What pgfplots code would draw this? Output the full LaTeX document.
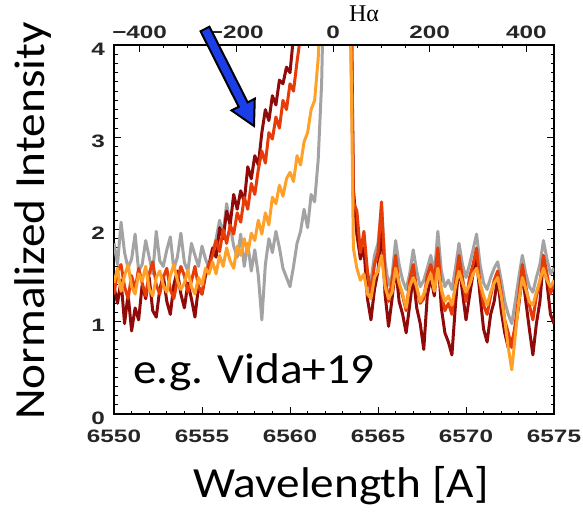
\documentclass[border=0pt]{standalone}
\usepackage{fontspec}
\usepackage{pgfplots}
\pgfplotsset{compat=1.18}
\usepackage{pgfplotstable}
\usetikzlibrary{calc}
\newfontfamily\calfont[FakeStretch=1.1]{Carlito}
\newfontfamily\tickfont[FakeStretch=1.35]{Liberation Sans}
\newfontfamily\serffont{Liberation Serif}
\definecolor{cgray}{RGB}{163,163,163}
\definecolor{corange}{RGB}{255,160,40}
\definecolor{cred}{RGB}{232,60,8}
\definecolor{cdark}{RGB}{145,10,10}
\definecolor{cblue}{RGB}{28,62,232}

\pgfplotstableread{
x G O R D
6550.0 1.85 1.42 1.30 1.38
6550.2 1.62 1.58 1.55 1.20
6550.4 2.08 1.33 1.62 1.45
6550.6 1.75 1.50 1.38 0.98
6550.8 1.58 1.62 1.25 1.30
6551.0 1.68 1.38 1.50 0.90
6551.2 1.95 1.30 1.35 1.15
6551.4 1.55 1.52 1.58 1.02
6551.6 1.62 1.44 1.42 1.40
6551.8 1.88 1.60 1.28 1.25
6552.0 1.70 1.36 1.52 1.48
6552.2 1.52 1.28 1.65 1.12
6552.4 1.98 1.48 1.40 1.05
6552.6 1.66 1.55 1.30 1.35
6552.8 1.60 1.40 1.48 1.50
6553.0 1.78 1.32 1.58 1.22
6553.2 1.92 1.50 1.35 1.08
6553.4 1.57 1.62 1.25 1.40
6553.6 1.70 1.45 1.45 1.55
6553.8 1.96 1.35 1.60 1.30
6554.0 1.64 1.42 1.50 1.15
6554.2 1.55 1.56 1.32 1.42
6554.4 1.85 1.38 1.44 1.25
6554.6 1.72 1.30 1.60 1.05
6554.8 1.60 1.48 1.38 1.38
6555.0 1.82 1.40 1.30 1.30
6555.2 1.68 1.58 1.55 1.50
6555.4 1.58 1.52 1.62 1.62
6555.6 1.75 1.65 1.72 1.80
6555.8 1.90 1.52 1.88 1.70
6556.0 2.10 1.72 1.76 2.02
6556.2 1.95 1.60 2.00 1.90
6556.4 2.28 1.80 1.85 2.20
6556.6 2.05 1.66 2.05 2.05
6556.8 1.82 1.58 1.95 2.38
6557.0 1.70 1.82 2.18 2.22
6557.2 1.95 1.72 2.08 2.42
6557.4 1.60 1.90 2.35 2.30
6557.6 1.85 1.74 2.22 2.68
6557.8 1.55 1.96 2.50 2.55
6558.0 1.78 1.88 2.38 2.80
6558.2 1.50 2.10 2.65 2.70
6558.4 1.02 1.95 2.85 3.05
6558.6 1.62 2.18 2.72 3.30
6558.8 1.90 2.05 3.05 3.18
6559.0 1.75 2.35 2.98 3.45
6559.2 1.98 2.28 3.22 3.35
6559.4 1.80 2.48 3.10 3.62
6559.6 1.58 2.36 3.40 3.58
6559.8 1.48 2.55 3.30 3.76
6560.0 1.38 2.62 3.58 3.70
6560.2 1.60 2.52 3.50 4.10
6560.4 1.85 2.80 3.82 4.60
6560.6 1.98 2.70 4.10 5.20
6560.8 2.22 2.95 4.50 6.00
6561.0 2.02 3.05 5.00 7.00
6561.2 2.38 3.30 5.80 8.00
6561.4 2.30 3.40 7.00 9.00
6561.6 2.75 3.85 8.50 10.0
6561.8 3.60 4.60 10.0 11.0
6562.0 5.50 6.50 11.0 12.0
6562.2 8.00 9.00 12.0 12.5
6562.4 9.50 10.5 12.5 13.0
6562.6 10.0 11.0 12.5 13.0
6562.8 10.0 11.0 12.0 12.5
6563.0 9.00 10.0 11.0 11.0
6563.2 7.00 8.00 9.00 9.00
6563.4 4.50 5.00 6.00 6.00
6563.6 2.40 1.80 2.30 2.45
6563.8 1.95 1.58 2.20 1.95
6564.0 1.75 1.45 1.75 1.68
6564.2 1.85 1.52 1.98 1.80
6564.4 1.50 1.30 1.55 1.25
6564.6 1.45 1.25 1.30 1.02
6564.8 1.72 1.48 1.62 1.35
6565.0 1.85 1.55 1.75 1.55
6565.2 2.25 1.72 2.30 2.05
6565.4 1.65 1.38 1.50 1.30
6565.6 1.40 1.25 1.22 0.95
6565.8 1.50 1.32 1.45 1.25
6566.0 1.88 1.58 1.72 1.60
6566.2 1.62 1.42 1.40 1.22
6566.4 1.45 1.30 1.28 1.08
6566.6 1.35 1.15 1.12 0.88
6566.8 1.52 1.38 1.45 1.18
6567.0 1.78 1.48 1.62 1.50
6567.2 1.55 1.38 1.35 1.15
6567.4 1.38 1.22 1.20 0.98
6567.6 1.45 1.30 1.25 0.70
6567.8 1.58 1.42 1.50 1.28
6568.0 1.72 1.52 1.62 1.48
6568.2 1.52 1.33 1.45 1.28
6568.4 1.98 1.58 1.80 1.72
6568.6 1.55 1.35 1.32 1.15
6568.8 1.38 1.22 1.12 0.88
6569.0 1.45 1.28 1.20 0.78
6569.2 1.35 1.18 1.08 0.64
6569.4 1.58 1.38 1.42 1.18
6569.6 1.85 1.55 1.72 1.62
6569.8 1.62 1.42 1.48 1.32
6570.0 1.48 1.32 1.22 1.02
6570.2 1.62 1.40 1.48 1.28
6570.4 1.78 1.52 1.62 1.52
6570.6 1.95 1.58 1.80 1.68
6570.8 1.62 1.42 1.40 1.28
6571.0 1.42 1.28 1.18 0.92
6571.2 1.35 1.18 1.08 0.78
6571.4 1.48 1.32 1.28 1.08
6571.6 1.58 1.42 1.45 1.22
6571.8 1.65 1.48 1.55 1.48
6572.0 1.45 1.28 1.32 1.12
6572.2 1.22 1.02 1.02 0.88
6572.4 1.08 0.72 0.88 0.72
6572.6 0.98 0.48 0.72 0.78
6572.8 1.22 0.85 0.98 0.92
6573.0 1.48 1.22 1.28 1.18
6573.2 1.72 1.48 1.62 1.52
6573.4 1.52 1.35 1.38 1.22
6573.6 1.38 1.22 1.18 0.92
6573.8 1.32 1.18 1.02 0.64
6574.0 1.48 1.32 1.28 0.98
6574.2 1.62 1.45 1.42 1.22
6574.4 1.88 1.58 1.72 1.68
6574.6 1.68 1.45 1.52 1.42
6574.8 1.52 1.38 1.30 1.08
6575.0 1.58 1.45 1.42 0.98
}\spec

\begin{document}
\begin{tikzpicture}
\useasboundingbox (-114bp,-100bp) rectangle (469bp,414bp);
\begin{axis}[
  at={(0,0)}, anchor=south west,
  scale only axis, width=440bp, height=369bp,
  xmin=6550, xmax=6575, ymin=0, ymax=4,
  xtick={6550,6555,...,6575}, ytick={0,1,2,3,4},
  minor x tick num=4, minor y tick num=9,
  xtick pos=lower, ytick pos=both,
  tick align=inside,
  major tick length=7bp, minor tick length=3.5bp,
  axis line style={line width=1.3bp},
  tick style={black, line width=1bp},
  ticklabel style={font=\fontsize{18bp}{18bp}\tickfont\bfseries, text=black!85, inner sep=1bp},
  xticklabel style={yshift=-15bp},
  yticklabel style={yshift=-4bp, xshift=-8bp},
  /pgf/number format/assume math mode=true,
  /pgf/number format/1000 sep={},
  every axis plot/.append style={sharp plot, line width=3bp, line join=round},
]
\addplot[cgray] table[x=x,y=G]{\spec};
\addplot[cdark] table[x=x,y=D]{\spec};
\addplot[cred] table[x=x,y=R]{\spec};
\addplot[corange] table[x=x,y=O]{\spec};
\end{axis}
\begin{axis}[
  at={(0,0)}, anchor=south west,
  scale only axis, width=440bp, height=369bp,
  xmin=-453, xmax=457, ymin=0, ymax=4,
  axis x line*=top, hide y axis,
  xtick={-400,-200,0,200,400},
  xticklabels={−400,−200,0,200,400},
  minor x tick num=3,
  tick align=inside,
  major tick length=7bp, minor tick length=3.5bp,
  axis line style={line width=1.3bp, -},
  tick style={black, line width=1bp},
  ticklabel style={font=\fontsize{18bp}{18bp}\tickfont\bfseries, text=black!85, inner sep=1bp},
  xticklabel style={yshift=5bp},
]
\end{axis}
\node[font=\fontsize{43bp}{43bp}\calfont, anchor=base, rotate=90] at (-69bp,193bp) {Normalized Intensity};
\node[font=\fontsize{43bp}{43bp}\calfont, anchor=base] at (227bp,-83bp) {Wavelength [A]};
\node[font=\fontsize{43bp}{43bp}\calfont, anchor=base west, inner sep=0pt] at (19bp,31bp) {e.g. Vida+19};
\node[font=\fontsize{24bp}{24bp}\serffont, anchor=base] at (250bp,392bp) {Hα};
\coordinate (T) at (91bp,385bp);
\coordinate (P) at (140bp,288bp);
\coordinate (B) at ($(P)!24bp!(T)$);
\filldraw[fill=cblue, draw=black, line width=2bp, line join=miter]
  ($(T)!5bp!90:(P)$) -- ($(B)!5bp!-90:(T)$) -- ($(B)!13bp!-90:(T)$) -- (P)
  -- ($(B)!13bp!90:(T)$) -- ($(B)!5bp!90:(T)$) -- ($(T)!5bp!-90:(P)$) -- cycle;
\end{tikzpicture}
\end{document}
